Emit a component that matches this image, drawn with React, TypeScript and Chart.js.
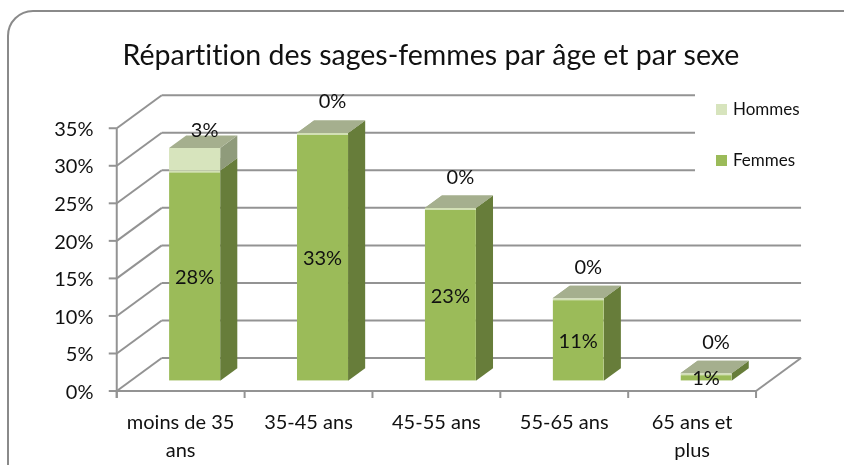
import { useEffect, useRef } from 'react';
import { Chart, registerables } from 'chart.js';

Chart.register(...registerables);

// ---- data ----
const chartTitle = 'Répartition des sages-femmes par âge et par sexe';
const categories: (string | string[])[] = [
  ['moins de 35', 'ans'],
  '35-45 ans',
  '45-55 ans',
  '55-65 ans',
  ['65 ans et', 'plus'],
];
const seriesNames = ['Femmes', 'Hommes'];
const femmes = [28, 33, 23, 11, 1];
const hommes = [3, 0, 0, 0, 0];
const yMax = 35;
const yStep = 5;

// ---- style ----
const FONT = 'Lato, "Open Sans", sans-serif';
const TEXT = '#111111';
const GRID = '#939393';
const FRONT_COLORS = ['#9BBB59', '#D7E4BD'];
const SIDE_COLORS = ['#677D3A', '#8F9B7B'];
const TOP_COLORS = ['#A3AD8B', '#A5AF8E'];
const DX = 45; // depth vector of the floor
const DY = -33;
const F = 0.31; // depth fraction of bar front plane
const BD = 0.38; // bar depth fraction

const threeD = {
  id: 'threeD',
  beforeDraw(chart: any) {
    const ctx = chart.ctx;
    (ctx as any).textRendering = 'optimizeSpeed';
    ctx.save();
    ctx.fillStyle = '#ffffff';
    ctx.fillRect(0, 0, chart.width, chart.height);
    // outer rounded frame
    ctx.strokeStyle = '#8A8A8A';
    ctx.lineWidth = 2;
    ctx.beginPath();
    ctx.roundRect(8, 11, 860, 490, 25);
    ctx.stroke();
    ctx.restore();
  },
  beforeDatasetsDraw(chart: any) {
    const ctx = chart.ctx;
    const ys = chart.scales.y;
    const ca = chart.chartArea;
    const n = chart.data.labels.length;
    const at = (xb: number, yb: number, t: number) => [xb + (t - F) * DX, yb + (t - F) * DY];
    ctx.save();
    ctx.strokeStyle = GRID;
    ctx.lineWidth = 2;
    ctx.lineCap = 'butt';
    const line = (a: number[], b: number[]) => {
      ctx.beginPath();
      ctx.moveTo(a[0], a[1]);
      ctx.lineTo(b[0], b[1]);
      ctx.stroke();
    };
    const ticks = ys.ticks.map((t: any) => t.value);
    const leftFront0 = at(ca.left, ys.getPixelForValue(0), 0);
    const rightFront0 = at(ca.right, ys.getPixelForValue(0), 0);
    const rightBack0 = at(ca.right, ys.getPixelForValue(0), 1);
    const topFront = at(ca.left, ys.getPixelForValue(yMax), 0);
    for (const v of ticks) {
      const yb = ys.getPixelForValue(v);
      const f = at(ca.left, yb, 0);
      const b = at(ca.left, yb, 1);
      const br = at(ca.right, yb, 1);
      line(f, b);
      line(b, br);
      // y tick mark
      line([f[0] - 8, f[1]], f);
    }
    // floor
    line(leftFront0, rightFront0);
    line(rightFront0, rightBack0);
    // front vertical axis
    line(topFront, [leftFront0[0], leftFront0[1] + 7]);
    // category ticks
    for (let i = 0; i <= n; i++) {
      const xb = ca.left + (i * (ca.right - ca.left)) / n;
      const p = at(xb, ys.getPixelForValue(0), 0);
      line(p, [p[0], p[1] + 7]);
    }
    // legend background (covers grid lines behind it)
    ctx.fillStyle = '#ffffff';
    ctx.fillRect(695, 84, 145, 100);

    // 3D faces of bars
    const bdx = BD * DX;
    const bdy = BD * DY;
    const count = chart.data.datasets[0].data.length;
    for (let i = 0; i < count; i++) {
      chart.data.datasets.forEach((_ds: any, d: number) => {
        const meta = chart.getDatasetMeta(d);
        const el = meta.data[i];
        if (!el) return;
        const p = el.getProps(['x', 'y', 'base', 'width'], true);
        const l = p.x - p.width / 2;
        const r = p.x + p.width / 2;
        const top = Math.min(p.y, p.base);
        const bot = Math.max(p.y, p.base);
        // side
        ctx.fillStyle = SIDE_COLORS[d];
        ctx.beginPath();
        ctx.moveTo(r, top);
        ctx.lineTo(r + bdx, top + bdy);
        ctx.lineTo(r + bdx, bot + bdy);
        ctx.lineTo(r, bot);
        ctx.closePath();
        ctx.fill();
        // top
        ctx.fillStyle = TOP_COLORS[d];
        ctx.beginPath();
        ctx.moveTo(l, top);
        ctx.lineTo(r, top);
        ctx.lineTo(r + bdx, top + bdy);
        ctx.lineTo(l + bdx, top + bdy);
        ctx.closePath();
        ctx.fill();
      });
    }
    ctx.restore();
  },
  afterDatasetsDraw(chart: any) {
    const ctx = chart.ctx;
    ctx.save();
    ctx.font = `20px ${FONT}`;
    ctx.fillStyle = TEXT;
    ctx.textAlign = 'center';
    ctx.textBaseline = 'middle';
    chart.data.datasets.forEach((ds: any, d: number) => {
      const meta = chart.getDatasetMeta(d);
      meta.data.forEach((el: any, i: number) => {
        const p = el.getProps(['x', 'y', 'base'], true);
        const txt = `${ds.data[i]}%`;
        if (d === 0) {
          ctx.fillText(txt, p.x, (p.y + p.base) / 2 + 2);
        } else {
          const h = Math.abs(p.base - p.y);
          ctx.fillText(txt, p.x + 10, Math.min(p.y, p.base) - 31 + 0.58 * h);
        }
      });
    });
    // legend (reverse order, as in the reference)
    ctx.font = `17px ${FONT}`;
    ctx.textAlign = 'left';
    const items = chart.data.datasets.map((ds: any) => ({ label: ds.label, color: ds.backgroundColor }));
    items.reverse().forEach((it: any, k: number) => {
      const cy = 110 + k * 51;
      ctx.fillStyle = it.color;
      ctx.fillRect(716, cy - 6, 11, 11);
      ctx.fillStyle = TEXT;
      ctx.fillText(it.label, 733, cy);
    });
    ctx.restore();
  },
};

export default function App() {
  const ref = useRef<HTMLCanvasElement | null>(null);
  useEffect(() => {
    document.body.style.margin = '0';
    const canvas = ref.current;
    if (!canvas) return;
    const chart = new Chart(canvas, {
      type: 'bar',
      data: {
        labels: categories,
        datasets: [
          {
            label: seriesNames[0],
            data: femmes,
            backgroundColor: FRONT_COLORS[0],
            borderColor: '#D2E0B5',
            borderWidth: { top: 2, left: 0, right: 0, bottom: 0 },
            borderSkipped: false,
            barPercentage: 0.4,
            categoryPercentage: 1,
            yAxisID: 'y',
          },
          {
            label: seriesNames[1],
            data: hommes,
            backgroundColor: FRONT_COLORS[1],
            borderWidth: 0,
            barPercentage: 0.4,
            categoryPercentage: 1,
            yAxisID: 'y',
          },
        ],
      },
      options: {
        responsive: false,
        animation: false,
        devicePixelRatio: 1,
        layout: { padding: { left: 18, right: 0, top: 0, bottom: 0 } },
        plugins: {
          legend: { display: false },
          tooltip: { enabled: false },
          title: {
            display: true,
            text: chartTitle,
            color: TEXT,
            font: { family: FONT, size: 28.5, weight: 'normal', lineHeight: 1.2 },
            padding: { top: 38.5, bottom: 45.3 },
          },
        },
        scales: {
          x: {
            stacked: true,
            offset: true,
            grid: { display: false, drawTicks: false },
            border: { display: false },
            ticks: {
              color: TEXT,
              font: { family: FONT, size: 20, lineHeight: 1.375 },
              padding: 28,
              labelOffset: -14,
              maxRotation: 0,
              autoSkip: false,
            },
            afterFit: (s: any) => {
              s.height = 84.2;
            },
          },
          y: {
            stacked: true,
            position: 'left',
            min: 0,
            max: yMax,
            grid: { display: false, drawTicks: false },
            border: { display: false },
            ticks: {
              stepSize: yStep,
              color: TEXT,
              font: { family: FONT, size: 20 },
              padding: 37.2,
              labelOffset: 11.5,
              callback: (v: any) => `${v}%`,
            },
            afterFit: (s: any) => {
              s.width = 112.7;
            },
          },
          yRight: {
            type: 'linear',
            position: 'right',
            display: true,
            grid: { display: false, drawTicks: false },
            border: { display: false },
            ticks: { display: false },
            afterFit: (s: any) => {
              s.width = 74;
            },
          },
        },
      },
      plugins: [threeD],
    });
    return () => chart.destroy();
  }, []);
  return <canvas ref={ref} width={844} height={465} />;
}
